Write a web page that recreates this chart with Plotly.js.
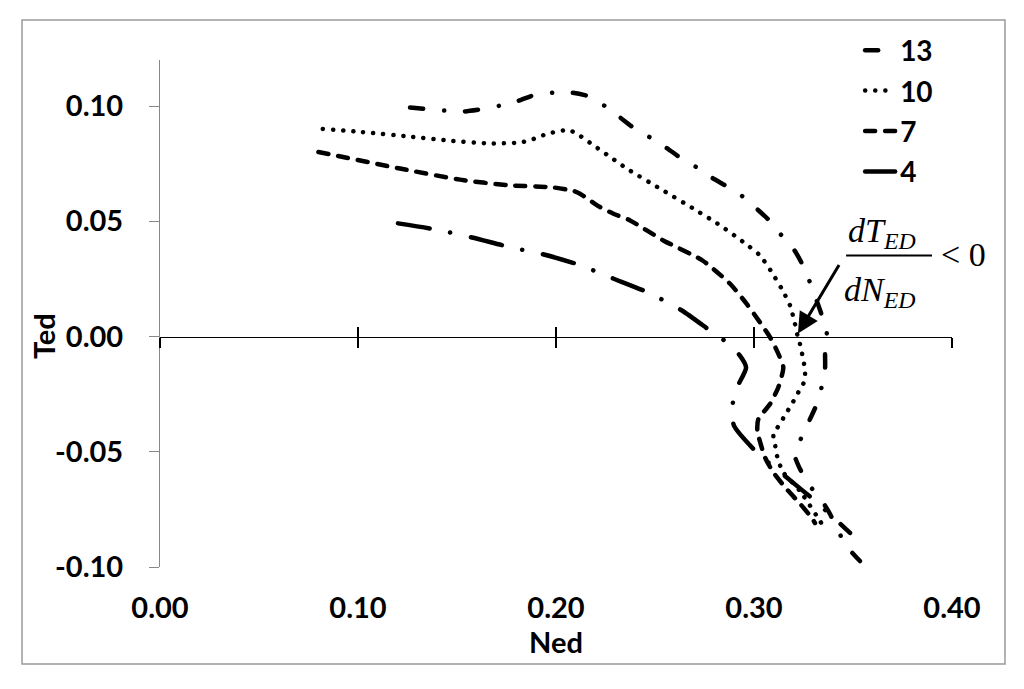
<!DOCTYPE html>
<html>
<head>
<meta charset="utf-8">
<script src="https://cdn.plot.ly/plotly-3.0.1.min.js"></script>
<style>
  html, body { margin: 0; padding: 0; background: #fff; }
  #chart { width: 1024px; height: 689px; }
  #chart path.js-line { stroke-linecap: round !important; }
</style>
</head>
<body>
<div id="chart"></div>
<script>
// Series names
const seriesNames = ['13', '10', '7', '4'];

// Curve "13" (dash-dot)
const ned13 = [0.1263,0.1354,0.1448,0.1540,0.1630,0.1722,0.1810,0.1894,0.1990,0.2084,0.2163,0.2247,0.2323,0.2390,0.2475,0.2556,0.2626,0.2707,0.2786,0.2862,0.2941,0.3013,0.3077,0.3136,0.3199,0.3241,0.3279,0.3367,0.3359,0.3359,0.3342,0.3317,0.3283,0.3241,0.3207,0.3232,0.3278,0.3343,0.3384,0.3424,0.3475,0.3535];
const ted13 = [0.0994,0.0986,0.0980,0.0977,0.0987,0.1003,0.1023,0.1049,0.1058,0.1058,0.1043,0.1000,0.0951,0.0907,0.0864,0.0820,0.0777,0.0736,0.0690,0.0652,0.0609,0.0555,0.0504,0.0442,0.0381,0.0319,0.0243,0.0019,-0.0070,-0.0135,-0.0217,-0.0293,-0.0358,-0.0435,-0.0517,-0.0574,-0.0643,-0.0713,-0.0770,-0.0843,-0.0917,-0.0974];

// Curve "10" (dotted)
const ned10 = [0.0822,0.1024,0.1271,0.1473,0.1667,0.1818,0.1869,0.1961,0.2062,0.2104,0.2189,0.2273,0.2357,0.2525,0.2694,0.2828,0.2946,0.3030,0.3089,0.3140,0.3182,0.3207,0.3219,0.3232,0.3253,0.3258,0.3250,0.3224,0.3199,0.3148,0.3098,0.3106,0.3114,0.3128,0.3148,0.3232,0.3359];
const ted10 = [0.0901,0.0887,0.0867,0.0849,0.0838,0.0842,0.0852,0.0881,0.0896,0.0881,0.0830,0.0780,0.0729,0.0642,0.0555,0.0483,0.0410,0.0352,0.0280,0.0207,0.0135,0.0055,0.0007,-0.0032,-0.0119,-0.0162,-0.0203,-0.0242,-0.0281,-0.0354,-0.0430,-0.0467,-0.0510,-0.0551,-0.0590,-0.0670,-0.0835];

// Curve "7" (dashed)
const ned7 = [0.0800,0.1212,0.1515,0.1751,0.1987,0.2088,0.2121,0.2222,0.2290,0.2374,0.2542,0.2740,0.2879,0.2963,0.3030,0.3081,0.3114,0.3148,0.3123,0.3081,0.3022,0.3017,0.3056,0.3098,0.3165,0.3232,0.3291,0.3308];
const ted7 = [0.0801,0.0729,0.0681,0.0657,0.0647,0.0632,0.0620,0.0562,0.0533,0.0504,0.0417,0.0330,0.0229,0.0142,0.0062,-0.0003,-0.0058,-0.0133,-0.0220,-0.0293,-0.0358,-0.0409,-0.0525,-0.0590,-0.0662,-0.0725,-0.0786,-0.0809];

// Curve "4" (long dash-dot)
const ned4 = [0.1202,0.1389,0.1576,0.1753,0.1934,0.2111,0.2288,0.2465,0.2636,0.2778,0.2864,0.2929,0.2960,0.2914,0.2889,0.2899,0.3015,0.3167,0.3308,0.3485];
const ted4 = [0.0491,0.0465,0.0430,0.0391,0.0357,0.0313,0.0252,0.0191,0.0113,0.0026,-0.0026,-0.0083,-0.0135,-0.0222,-0.0309,-0.0387,-0.0504,-0.0613,-0.0713,-0.0852];

// Axis ticks
const xTicks = [0, 0.1, 0.2, 0.3, 0.4];
const xTickText = ['0.00', '0.10', '0.20', '0.30', '0.40'];
const yTicks = [-0.10, -0.05, 0.00, 0.05, 0.10];
const yTickText = ['-0.10', '-0.05', '0.00', '0.05', '0.10'];

const xs = [ned13, ned10, ned7, ned4];
const ys = [ted13, ted10, ted7, ted4];
const dashes = ['13px,21px,0.1px,21px', '0.1px,10px', '10px,10px', '32px,21px,0.1px,21px'];

const data = seriesNames.map((n, i) => ({
  type: 'scatter', mode: 'lines', name: n, x: xs[i], y: ys[i],
  legendgroup: 'g' + i,
  line: { color: '#000', width: 4.5, dash: dashes[i], shape: 'spline', smoothing: 0.6 },
  hoverinfo: 'skip'
}));
// helper empty traces so the crossing-tick axes are drawn
data.push({ type: 'scatter', x: [], y: [], xaxis: 'x2', yaxis: 'y', showlegend: false, hoverinfo: 'skip' });
data.push({ type: 'scatter', x: [], y: [], xaxis: 'x3', yaxis: 'y', showlegend: false, hoverinfo: 'skip' });

const boldFont = { family: 'Lato, "Open Sans", sans-serif', size: 29, color: '#000', weight: 'bold' };
const serif = { family: '"Liberation Serif", "Times New Roman", serif', size: 34, color: '#000' };

const crossAxis = {
  overlaying: 'x', anchor: 'free', position: 0.4545, range: [0, 0.4],
  tickvals: xTicks, showticklabels: false, ticklen: 10, tickwidth: 1.5, tickcolor: '#000',
  showline: true, linecolor: '#000', linewidth: 1.5, showgrid: false, zeroline: false, automargin: false
};

const layout = {
  width: 1024, height: 689,
  margin: { l: 160, r: 72, t: 60, b: 122 },
  paper_bgcolor: '#fff', plot_bgcolor: '#fff',
  showlegend: true,
  legend: {
    x: 0.884, y: 1.068, xanchor: 'left', yanchor: 'top',
    font: { family: 'Lato, sans-serif', size: 28, color: '#000', weight: 'bold' },
    traceorder: 'grouped', tracegroupgap: 1, itemwidth: 30, bgcolor: 'rgba(0,0,0,0)'
  },
  xaxis: {
    range: [0, 0.4], tickvals: xTicks, ticktext: xTickText, ticks: '', showline: false,
    showgrid: false, zeroline: false, ticklabelstandoff: 21, automargin: false,
    tickfont: boldFont,
    title: { text: 'Ned', font: boldFont, standoff: 0 }
  },
  xaxis2: Object.assign({}, crossAxis, { ticks: 'outside' }),
  xaxis3: Object.assign({}, crossAxis, { ticks: 'inside' }),
  yaxis: {
    range: [-0.1, 0.12], tickvals: yTicks, ticktext: yTickText, ticks: 'outside', ticklen: 10,
    tickcolor: '#888', tickwidth: 1, showline: true, linecolor: '#888', linewidth: 1,
    showgrid: false, zeroline: false, ticklabelstandoff: 20, automargin: false,
    tickfont: boldFont
  },
  shapes: [
    { type: 'rect', xref: 'paper', yref: 'paper', x0: -0.1742, x1: 1.0669, y0: -0.1913, y1: 1.0789,
      line: { color: '#9a9a9a', width: 1.5 }, fillcolor: 'rgba(0,0,0,0)', layer: 'below' },
    { type: 'line', xref: 'x', yref: 'y', x0: 0.3465, x1: 0.3899, y0: 0.0352, y1: 0.0352,
      line: { color: '#000', width: 2 } }
  ],
  annotations: [
    { xref: 'paper', yref: 'paper', x: -0.1477, y: 0.4556, xanchor: 'center', yanchor: 'middle',
      showarrow: false, text: 'Ted', textangle: -90, font: boldFont },
    { xref: 'x', yref: 'y', x: 0.3465, y: 0.0448, xanchor: 'left', yanchor: 'middle', showarrow: false,
      text: '<i>dT</i><sub><i>ED</i></sub>', font: serif },
    { xref: 'x', yref: 'y', x: 0.3445, y: 0.0192, xanchor: 'left', yanchor: 'middle', showarrow: false,
      text: '<i>dN</i><sub><i>ED</i></sub>', font: serif },
    { xref: 'x', yref: 'y', x: 0.3935, y: 0.0357, xanchor: 'left', yanchor: 'middle', showarrow: false,
      text: '&lt; 0', font: serif },
    { xref: 'x', yref: 'y', x: 0.3222, y: 0.0013, text: '', showarrow: true, arrowhead: 2,
      arrowsize: 1.4, arrowwidth: 3, arrowcolor: '#000', ax: 42, ay: -70, standoff: 0 }
  ]
};

Plotly.newPlot('chart', data, layout, { staticPlot: true, displayModeBar: false });
</script>
</body>
</html>
